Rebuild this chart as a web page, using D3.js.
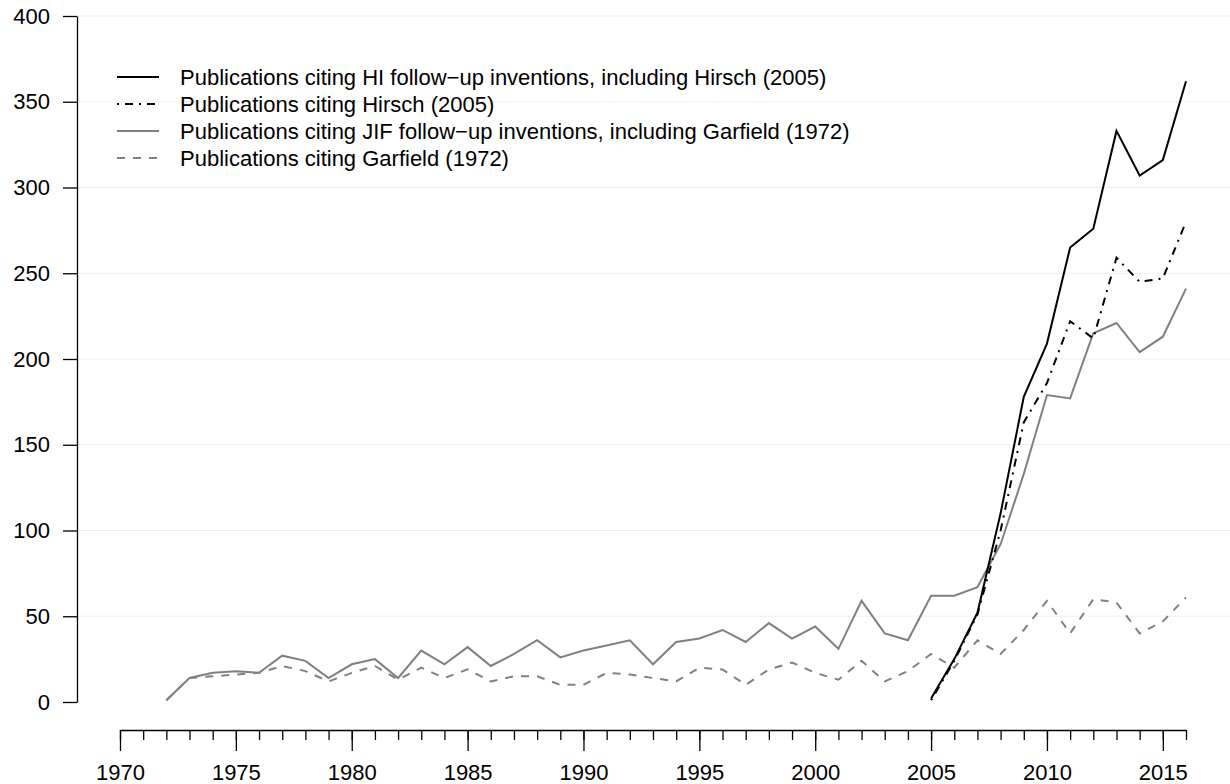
<!DOCTYPE html>
<html>
<head>
<meta charset="utf-8">
<script src="https://cdnjs.cloudflare.com/ajax/libs/d3/7.8.5/d3.min.js"></script>
<style>
    body { margin: 0; background: #fff; }
    svg { display: block; font-family: "Liberation Sans", Arial, Helvetica, sans-serif; }
</style>
</head>
<body>
<div id="chart"></div>
<script>
// values
var hiYears = [2005, 2006, 2007, 2008, 2009, 2010, 2011, 2012, 2013, 2014, 2015, 2016];
var hiValues = [2, 25, 52, 110, 178, 209, 265, 276, 333, 307, 316, 362];
var hirschValues = [1, 24, 51, 100, 163, 186, 222, 212, 259, 245, 247, 280];

var jifYears = d3.range(1972, 2017);
var jifValues = [1, 14, 17, 18, 17, 27, 24, 14, 22, 25, 14, 30, 22, 32, 21, 28, 36, 26, 30, 33,
    36, 22, 35, 37, 42, 35, 46, 37, 44, 31, 59, 40, 36, 62, 62, 67, 92, 133, 179, 177, 215, 221, 204, 213, 241];
var garfieldValues = [1, 14, 15, 16, 17, 21, 18, 12, 17, 21, 13, 20, 14, 19, 12, 15, 15, 10, 10, 17,
    16, 14, 12, 20, 19, 10, 19, 23, 17, 13, 24, 12, 18, 28, 20, 36, 28, 42, 59, 40, 60, 58, 40, 47, 61];

var yTicks = [0, 50, 100, 150, 200, 250, 300, 350, 400];
var xMajor = [1970, 1975, 1980, 1985, 1990, 1995, 2000, 2005, 2010, 2015];
var xMinor = d3.range(1970, 2017);

var legendLabels = [
    'Publications citing HI follow\u2212up inventions, including Hirsch (2005)',
    'Publications citing Hirsch (2005)',
    'Publications citing JIF follow\u2212up inventions, including Garfield (1972)',
    'Publications citing Garfield (1972)'
];

var width = 1230, height = 784;
var grey = '#808080';

var svg = d3.select('#chart')
    .append('svg')
    .attr('width', width)
    .attr('height', height);

var x = d3.scaleLinear().domain([1970, 2016]).range([120, 1186]);
var y = d3.scaleLinear().domain([0, 400]).range([702, 16]);

// faint grid
svg.selectAll('line.grid')
    .data(yTicks.slice(1))
    .enter().append('line')
    .attr('class', 'grid')
    .attr('x1', 77).attr('x2', width)
    .attr('y1', function(d) { return y(d); })
    .attr('y2', function(d) { return y(d); })
    .style('stroke', '#efefef')
    .style('stroke-width', 1);

// y axis
var yAxis = d3.axisLeft(y)
    .tickValues(yTicks)
    .tickSize(14)
    .tickPadding(13)
    .tickSizeOuter(0);
var gy = svg.append('g')
    .attr('transform', 'translate(77,0)')
    .call(yAxis);
gy.select('.domain').style('stroke', '#000').style('stroke-width', 1.3);
gy.selectAll('.tick line').style('stroke', '#000').style('stroke-width', 1.3);
gy.selectAll('.tick text').style('font-size', '22px').style('fill', '#000').attr('font-family', null);

// x axis: minor ticks each year, major every 5 years
var gxMinor = svg.append('g')
    .attr('transform', 'translate(0,730)')
    .call(d3.axisBottom(x).tickValues(xMinor).tickSize(10).tickSizeOuter(0).tickFormat(''));
gxMinor.select('.domain').style('stroke', '#000').style('stroke-width', 1.3);
gxMinor.selectAll('.tick line').style('stroke', '#000').style('stroke-width', 1.3);

var gxMajor = svg.append('g')
    .attr('transform', 'translate(0,730)')
    .call(d3.axisBottom(x).tickValues(xMajor).tickSize(21).tickPadding(13).tickFormat(d3.format('d')));
gxMajor.select('.domain').remove();
gxMajor.selectAll('.tick line').style('stroke', '#000').style('stroke-width', 1.3);
gxMajor.selectAll('.tick text').style('font-size', '22px').style('fill', '#000').attr('font-family', null);

var line = d3.line()
    .x(function(d) { return x(d[0]); })
    .y(function(d) { return y(d[1]); });

var series = [
    { years: hiYears, values: hiValues, color: '#000', dash: null },
    { years: hiYears, values: hirschValues, color: '#000', dash: '2,6,8,6' },
    { years: jifYears, values: jifValues, color: grey, dash: null },
    { years: jifYears, values: garfieldValues, color: grey, dash: '8,8' }
];

// draw grey ones first so black sit on top
[3, 2, 1, 0].forEach(function(i) {
    var s = series[i];
    var pts = s.years.map(function(yr, j) { return [yr, s.values[j]]; });
    svg.append('path')
        .datum(pts)
        .attr('d', line)
        .style('fill', 'none')
        .style('stroke', s.color)
        .style('stroke-width', 2)
        .style('stroke-dasharray', s.dash);
});

// legend
var legend = svg.selectAll('g.legend')
    .data(legendLabels)
    .enter().append('g')
    .attr('class', 'legend')
    .attr('transform', function(d, i) { return 'translate(0,' + (77 + i * 27) + ')'; });

legend.append('line')
    .attr('x1', 117).attr('x2', 159)
    .attr('y1', 0).attr('y2', 0)
    .style('stroke', function(d, i) { return series[i].color; })
    .style('stroke-width', 2)
    .style('stroke-dasharray', function(d, i) { return series[i].dash; });

legend.append('text')
    .attr('x', 180)
    .attr('y', 0)
    .attr('dy', '0.35em')
    .style('font-size', '22px')
    .text(function(d) { return d; });
</script>
</body>
</html>
